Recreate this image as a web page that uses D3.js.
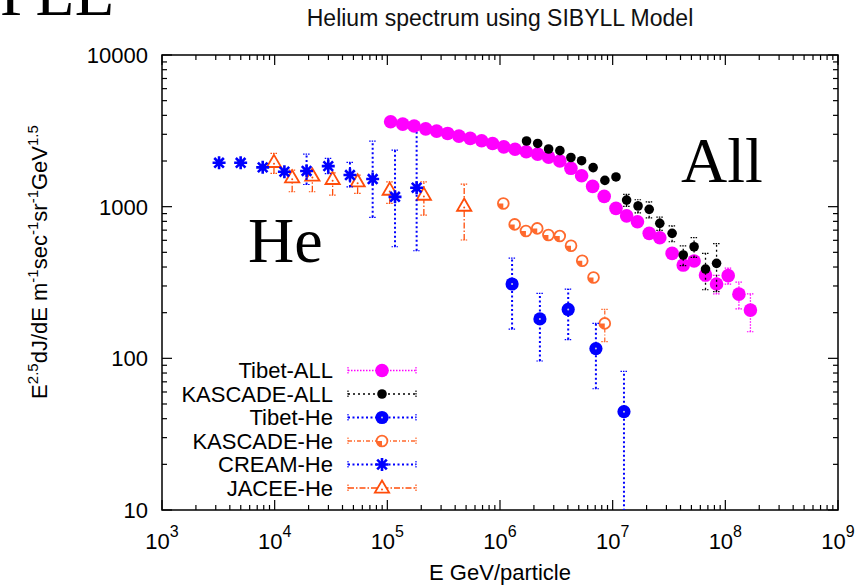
<!DOCTYPE html>
<html>
<head>
<meta charset="utf-8">
<script src="https://cdn.jsdelivr.net/npm/d3@7"></script>
<style>
  html, body { margin: 0; padding: 0; background: #fff; }
  svg { display: block; }
</style>
</head>
<body>
<svg id="chart" width="863" height="585"></svg>
<script>
// ---- Data: energy (GeV/particle) and E^2.5 dJ/dE flux ----
const tibetAllE = [1.07e5, 1.37e5, 1.73e5, 2.19e5, 2.74e5, 3.43e5, 4.32e5, 5.44e5, 6.87e5, 8.59e5,
                   1.08e6, 1.36e6, 1.71e6, 2.16e6, 2.70e6, 3.40e6, 4.26e6, 5.30e6, 6.64e6, 8.41e6,
                   1.07e7, 1.33e7, 1.66e7, 2.11e7, 2.62e7, 3.37e7, 4.23e7, 5.28e7, 6.67e7, 8.36e7,
                   1.06e8, 1.32e8, 1.67e8];
const tibetAllF = [3630, 3500, 3400, 3260, 3150, 3040, 2920, 2820, 2720, 2610,
                   2480, 2390, 2300, 2220, 2120, 2000, 1790, 1600, 1360, 1170,
                   975, 870, 795, 667, 624, 492, 412, 438, 354, 309,
                   351, 265, 208];
const tibetAllErr = [0, 0, 0, 0, 0, 0, 0, 0, 0, 0,
                     0, 0, 0, 0, 0, 0, 0, 0, 0, 0,
                     0, 0, 0, 0, 0, 0.05, 0.06, 0.06, 0.08, 0.14,
                     0.12, 0.2, 0.28];

const kascadeAllE = [1.72e6, 2.16e6, 2.70e6, 3.40e6, 4.26e6, 5.30e6, 6.71e6, 8.53e6, 1.07e7,
                     1.33e7, 1.68e7, 2.11e7, 2.62e7, 3.37e7, 4.23e7, 5.28e7, 6.67e7, 8.36e7];
const kascadeAllF = [2710, 2610, 2400, 2340, 2110, 2010, 1810, 1490, 1570,
                     1105, 1010, 960, 776, 667, 480, 544, 388, 423];
const kascadeAllErr = [0, 0, 0, 0, 0, 0, 0, 0, 0,
                       0.09, 0.1, 0.12, 0.1, 0.12, 0.15, 0.15, 0.27, 0.35];

const tibetHeE  = [1.28e6, 2.26e6, 4.03e6, 7.10e6, 1.26e7];
const tibetHeF  = [309, 182, 210, 116, 44.5];
const tibetHeLo = [156, 96, 133, 63, 5];
const tibetHeHi = [458, 268, 286, 170, 82];

const kascadeHeE  = [1.07e6, 1.35e6, 1.70e6, 2.14e6, 2.69e6, 3.39e6, 4.27e6, 5.37e6, 6.76e6, 8.51e6];
const kascadeHeF  = [1050, 764, 691, 719, 650, 640, 552, 440, 341, 170];
const kascadeHeLo = [null, null, null, null, null, null, null, null, null, 129];
const kascadeHeHi = [null, null, null, null, null, null, null, null, null, 210];

const creamE  = [3.21e3, 4.99e3, 7.83e3, 1.22e4, 1.92e4, 2.99e4, 4.66e4, 7.41e4, 1.17e5, 1.82e5];
const creamF  = [1947, 1947, 1816, 1700, 1720, 1850, 1616, 1521, 1161, 1333];
const creamLo = [null, null, null, null, 1400, 1650, 1350, 850, 544, 512];
const creamHi = [null, null, null, null, 2220, 2080, 1960, 2706, 2360, 3281];

const jaceeE  = [9.86e3, 1.43e4, 2.16e4, 3.27e4, 5.45e4, 1.05e5, 2.11e5, 4.81e5];
const jaceeF  = [1960, 1552, 1592, 1514, 1459, 1286, 1192, 1009];
const jaceeLo = [1659, 1254, 1254, 1192, 1224, 1051, 880, 603];
const jaceeHi = [2246, 1742, 1671, 1671, 1615, 1459, 1459, 1409];

// ---- Axis ticks and labels ----
const xMajorTicks = [1e3, 1e4, 1e5, 1e6, 1e7, 1e8, 1e9];
const xTickExps   = ["3", "4", "5", "6", "7", "8", "9"];
const yMajorTicks = [10, 100, 1000, 10000];
const yTickLabels = ["10", "100", "1000", "10000"];

const legendNames = ["Tibet-ALL", "KASCADE-ALL", "Tibet-He", "KASCADE-He", "CREAM-He", "JACEE-He"];

// ---- Layout ----
const svg = d3.select("#chart");
const L = 162, R = 838, T = 55, B = 510;
const x = d3.scaleLog().domain([1e3, 1e9]).range([L, R]);
const y = d3.scaleLog().domain([10, 1e4]).range([B, T]);
const sans = "'Liberation Sans', Arial, Helvetica, sans-serif";
const serif = "'Liberation Serif', 'Times New Roman', serif";
const FS = 22, FSUP = 15;

const MAGENTA = "#ff00ff", BLUE = "#0000ff", ORANGE_C = "#ff6a2e", ORANGE_T = "#ff4d0a";

// minor tick positions (2..9 within each decade)
const xMinor = [], yMinor = [];
for (let d = 3; d < 9; d++) for (let k = 2; k <= 9; k++) xMinor.push(k * Math.pow(10, d));
for (let d = 1; d < 4; d++) for (let k = 2; k <= 9; k++) yMinor.push(k * Math.pow(10, d));

// axes with inward ticks, mirrored on top and right
const axG = svg.append("g").attr("stroke", "#000").attr("stroke-width", 1.2);
function ticks(vals, len, side) {
  vals.forEach(v => {
    if (side === "bottom") axG.append("line").attr("x1", x(v)).attr("x2", x(v)).attr("y1", B).attr("y2", B - len);
    if (side === "top")    axG.append("line").attr("x1", x(v)).attr("x2", x(v)).attr("y1", T).attr("y2", T + len);
    if (side === "left")   axG.append("line").attr("y1", y(v)).attr("y2", y(v)).attr("x1", L).attr("x2", L + len);
    if (side === "right")  axG.append("line").attr("y1", y(v)).attr("y2", y(v)).attr("x1", R).attr("x2", R - len);
  });
}
ticks(xMajorTicks, 10, "bottom"); ticks(xMajorTicks, 10, "top");
ticks(xMinor, 5, "bottom"); ticks(xMinor, 5, "top");
ticks(yMajorTicks, 10, "left"); ticks(yMajorTicks, 10, "right");
ticks(yMinor, 5, "left"); ticks(yMinor, 5, "right");

// frame
svg.append("rect").attr("x", L).attr("y", T).attr("width", R - L).attr("height", B - T)
  .attr("fill", "none").attr("stroke", "#000").attr("stroke-width", 1.5);

// x tick labels: 10^n
const xl = svg.append("g").attr("font-family", sans).attr("fill", "#000");
xMajorTicks.forEach((v, i) => {
  const t = xl.append("text").attr("x", x(v)).attr("y", 549).attr("text-anchor", "middle")
    .attr("font-size", FS);
  t.append("tspan").text("10");
  t.append("tspan").attr("font-size", FSUP + 1).attr("dy", -12).text(xTickExps[i]);
});
// y tick labels
yMajorTicks.forEach((v, i) => {
  xl.append("text").attr("x", 148).attr("y", y(v)).attr("dy", "0.36em").attr("text-anchor", "end")
    .attr("font-size", FS).text(yTickLabels[i]);
});

// titles
svg.append("text").attr("x", (L + R) / 2).attr("y", 26).attr("text-anchor", "middle")
  .attr("font-family", sans).attr("font-size", 23).attr("fill", "#111")
  .text("Helium spectrum using SIBYLL Model");
svg.append("text").attr("x", (L + R) / 2).attr("y", 580).attr("text-anchor", "middle")
  .attr("font-family", sans).attr("font-size", FS).text("E GeV/particle");

const yl = svg.append("text").attr("transform", "translate(47,262) rotate(-90)")
  .attr("text-anchor", "middle").attr("font-family", sans).attr("font-size", FS);
[["E", 0], ["2.5", 1], ["dJ/dE m", 0], ["-1", 1], ["sec", 0], ["-1", 1], ["sr", 0], ["-1", 1], ["GeV", 0], ["1.5", 1]]
  .forEach(([s, sup], i, arr) => {
    const prevSup = i > 0 ? arr[i - 1][1] : 0;
    const dy = sup && !prevSup ? -9 : (!sup && prevSup ? 9 : 0);
    yl.append("tspan").attr("font-size", sup ? FSUP : FS).attr("dy", dy).text(s);
  });

// big annotations
svg.append("text").attr("x", 0).attr("y", 15).attr("font-family", serif).attr("font-size", 64).text("PLE");
svg.append("text").attr("x", 248).attr("y", 262).attr("font-family", serif).attr("font-size", 64).text("He");
svg.append("text").attr("x", 681).attr("y", 182).attr("font-family", serif).attr("font-size", 64).text("All");

// ---- data layer ----
svg.append("clipPath").attr("id", "plotclip").append("rect")
  .attr("x", L).attr("y", T).attr("width", R - L).attr("height", B - T);
const plot = svg.append("g").attr("clip-path", "url(#plotclip)");

const styles = {
  tibetAll:   { color: MAGENTA, dash: "1.5,1.5", w: 1.3 },
  kascadeAll: { color: "#000",  dash: "2,3",     w: 1.3 },
  tibetHe:    { color: BLUE,    dash: "2,2.5",   w: 2 },
  kascadeHe:  { color: ORANGE_C, dash: "4,2,1,2", w: 1.3 },
  cream:      { color: BLUE,    dash: "2,2.5",   w: 2 },
  jacee:      { color: ORANGE_T, dash: "6,2,1.5,2", w: 1.3 }
};

function errorBars(g, E, lo, hi, st) {
  E.forEach((e, i) => {
    if (lo[i] == null || hi[i] == null) return;
    const cx = x(e), y1 = y(Math.max(lo[i], 1)), y2 = y(hi[i]);
    g.append("line").attr("x1", cx).attr("x2", cx).attr("y1", y1).attr("y2", y2)
      .attr("stroke", st.color).attr("stroke-width", st.w).attr("stroke-dasharray", st.dash);
    [y1, y2].forEach(yy => g.append("line").attr("x1", cx - 3.5).attr("x2", cx + 3.5)
      .attr("y1", yy).attr("y2", yy).attr("stroke", st.color).attr("stroke-width", 1.2)
      .attr("stroke-dasharray", "1.5,1"));
  });
}

// marker painters
const markers = {
  tibetAll: (g, cx, cy) => g.append("circle").attr("cx", cx).attr("cy", cy).attr("r", 6.8).attr("fill", MAGENTA),
  kascadeAll: (g, cx, cy) => g.append("circle").attr("cx", cx).attr("cy", cy).attr("r", 4.8).attr("fill", "#000"),
  tibetHe: (g, cx, cy) => {
    g.append("circle").attr("cx", cx).attr("cy", cy).attr("r", 6.6).attr("fill", BLUE);
    g.append("circle").attr("cx", cx).attr("cy", cy).attr("r", 1).attr("fill", "#ccd");
  },
  kascadeHe: (g, cx, cy) => {
    g.append("circle").attr("cx", cx).attr("cy", cy).attr("r", 5.4).attr("fill", "#fff")
      .attr("stroke", ORANGE_C).attr("stroke-width", 1.8);
    g.append("path").attr("transform", `translate(${cx},${cy})`)
      .attr("d", d3.arc()({ innerRadius: 0, outerRadius: 5.4, startAngle: Math.PI, endAngle: Math.PI * 1.5 }))
      .attr("fill", ORANGE_C);
  },
  cream: (g, cx, cy) => {
    const r = 6.5, rd = 4.8;
    const p = `M${cx - r},${cy}L${cx + r},${cy}M${cx},${cy - r}L${cx},${cy + r}` +
              `M${cx - rd},${cy - rd}L${cx + rd},${cy + rd}M${cx - rd},${cy + rd}L${cx + rd},${cy - rd}`;
    g.append("path").attr("d", p).attr("stroke", BLUE).attr("stroke-width", 2.6).attr("fill", "none");
  },
  jacee: (g, cx, cy) => {
    const s = 7.5;
    g.append("path").attr("d", `M${cx},${cy - s}L${cx + s * 0.95},${cy + s * 0.62}L${cx - s * 0.95},${cy + s * 0.62}Z`)
      .attr("fill", "#fff").attr("stroke", ORANGE_T).attr("stroke-width", 1.8);
    g.append("circle").attr("cx", cx).attr("cy", cy + 1.5).attr("r", 1).attr("fill", ORANGE_T);
  }
};

function relBounds(F, err) {
  return [F.map((v, i) => err[i] ? v * (1 - err[i]) : null), F.map((v, i) => err[i] ? v * (1 + err[i]) : null)];
}

function series(key, E, F, lo, hi) {
  const g = plot.append("g");
  errorBars(g, E, lo, hi, styles[key]);
  E.forEach((e, i) => markers[key](g, x(e), y(F[i])));
}

const [taLo, taHi] = relBounds(tibetAllF, tibetAllErr);
const [kaLo, kaHi] = relBounds(kascadeAllF, kascadeAllErr);
series("jacee", jaceeE, jaceeF, jaceeLo, jaceeHi);
series("cream", creamE, creamF, creamLo, creamHi);
series("kascadeHe", kascadeHeE, kascadeHeF, kascadeHeLo, kascadeHeHi);
series("tibetHe", tibetHeE, tibetHeF, tibetHeLo, tibetHeHi);
series("tibetAll", tibetAllE, tibetAllF, taLo, taHi);
series("kascadeAll", kascadeAllE, kascadeAllF, kaLo, kaHi);

// ---- legend ----
const legendKeys = ["tibetAll", "kascadeAll", "tibetHe", "kascadeHe", "cream", "jacee"];
const lg = svg.append("g");
legendKeys.forEach((k, i) => {
  const yy = 370.5 + i * 23.5, st = styles[k];
  lg.append("text").attr("x", 333).attr("y", yy).attr("dy", "0.36em").attr("text-anchor", "end")
    .attr("font-family", sans).attr("font-size", FS).text(legendNames[i]);
  lg.append("line").attr("x1", 348).attr("x2", 416).attr("y1", yy).attr("y2", yy)
    .attr("stroke", st.color).attr("stroke-width", st.w).attr("stroke-dasharray", st.dash);
  [348, 416].forEach(xx => lg.append("line").attr("x1", xx).attr("x2", xx).attr("y1", yy - 3.5).attr("y2", yy + 3.5)
    .attr("stroke", st.color).attr("stroke-width", 1.2).attr("stroke-dasharray", "1.5,1"));
  markers[k](lg, 382, yy);
});
</script>
</body>
</html>
